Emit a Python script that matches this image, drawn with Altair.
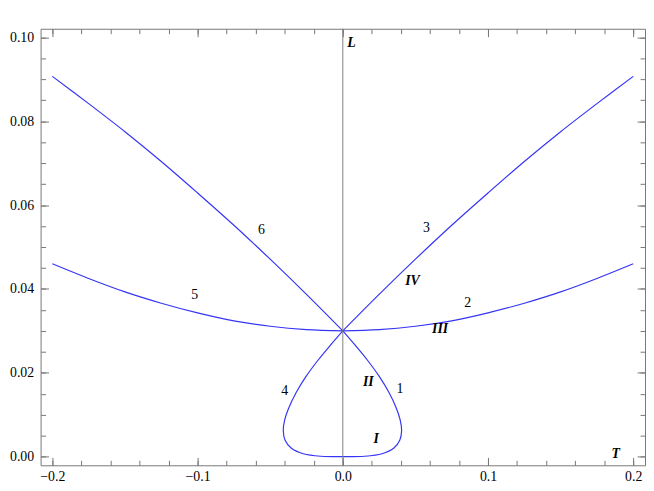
import altair as alt
import pandas as pd

# ---- data ----
# branches 3 (right) and 6 (left)
branch3_x = [0.0, 0.025, 0.05, 0.075, 0.1, 0.125, 0.15, 0.175, 0.2]
branch3_y = [0.0300, 0.0387, 0.0471, 0.0552, 0.0629, 0.0704, 0.0775, 0.0842, 0.0907]
branch6_x = [0.0, -0.025, -0.05, -0.075, -0.1, -0.125, -0.15, -0.175, -0.2]
branch6_y = [0.0300, 0.0387, 0.0471, 0.0552, 0.0629, 0.0704, 0.0775, 0.0842, 0.0907]
# parabola-like branches 2 (right) and 5 (left)
branch2_x = [0.0, 0.025, 0.05, 0.075, 0.1, 0.125, 0.15, 0.175, 0.2]
branch2_y = [0.0300, 0.0303, 0.0311, 0.0324, 0.0343, 0.0366, 0.0393, 0.0425, 0.0460]
branch5_x = [0.0, -0.025, -0.05, -0.075, -0.1, -0.125, -0.15, -0.175, -0.2]
branch5_y = [0.0300, 0.0303, 0.0311, 0.0324, 0.0343, 0.0366, 0.0393, 0.0425, 0.0460]
# loop (branches 1 and 4), traced from the crossing point around
loop_x = [0.0, 0.0085, 0.0170, 0.0250, 0.0318, 0.0366, 0.0395, 0.0405, 0.0393, 0.0350,
          0.0270, 0.0150, 0.0, -0.0150, -0.0272, -0.0354, -0.0398, -0.0410, -0.0400,
          -0.0370, -0.0321, -0.0252, -0.0171, -0.0085, 0.0]
loop_y = [0.0300, 0.0266, 0.0230, 0.0192, 0.0153, 0.0118, 0.0088, 0.0063, 0.0040, 0.0020,
          0.0007, 0.0001, 0.0, 0.0001, 0.0007, 0.0020, 0.0040, 0.0063, 0.0088,
          0.0118, 0.0153, 0.0192, 0.0230, 0.0266, 0.0300]

num_labels = ["6", "5", "3", "2", "1", "4"]
num_x = [-0.056, -0.102, 0.0576, 0.086, 0.0393, -0.040]
num_y = [0.0540, 0.0385, 0.0545, 0.0366, 0.0161, 0.0156]

roman_labels = ["I", "II", "III", "IV"]
roman_x = [0.023, 0.0176, 0.067, 0.048]
roman_y = [0.0041, 0.0178, 0.0305, 0.0418]

axis_labels = ["L", "T"]
axis_lab_x = [0.006, 0.188]
axis_lab_y = [0.0987, 0.0007]

x_major = [-0.2, -0.1, 0.0, 0.1, 0.2]
y_major = [0.0, 0.02, 0.04, 0.06, 0.08, 0.1]
x_minor = [-0.2, -0.18, -0.16, -0.14, -0.12, -0.1, -0.08, -0.06, -0.04, -0.02, 0.0,
           0.02, 0.04, 0.06, 0.08, 0.1, 0.12, 0.14, 0.16, 0.18, 0.2]
y_minor = [0.0, 0.005, 0.01, 0.015, 0.02, 0.025, 0.03, 0.035, 0.04, 0.045, 0.05,
           0.055, 0.06, 0.065, 0.07, 0.075, 0.08, 0.085, 0.09, 0.095, 0.1]

X_DOMAIN = [-0.2081, 0.2081]
Y_DOMAIN = [-0.00205, 0.10205]

# ---- tables ----
rows = []
for name, xs_, ys_ in [("3", branch3_x, branch3_y), ("6", branch6_x, branch6_y),
                       ("2", branch2_x, branch2_y), ("5", branch5_x, branch5_y),
                       ("loop", loop_x, loop_y)]:
    for i, (x, y) in enumerate(zip(xs_, ys_)):
        rows.append({"curve": name, "x": x, "y": y, "o": i})
curves = pd.DataFrame(rows)
nums = pd.DataFrame({"t": num_labels, "x": num_x, "y": num_y})
romans = pd.DataFrame({"t": roman_labels, "x": roman_x, "y": roman_y})
axlabs = pd.DataFrame({"t": axis_labels, "x": axis_lab_x, "y": axis_lab_y})
zero = pd.DataFrame({"x": [0.0]})

FONT = "Liberation Serif"
GRAY = "#777777"
BLUE = "#3535f5"

xs = alt.Scale(domain=X_DOMAIN, nice=False, zero=False)
ys = alt.Scale(domain=Y_DOMAIN, nice=False, zero=False)


def ax(orient, values, size, labels=False, fmt=None, pad=0):
    kw = dict(orient=orient, values=values, tickSize=size, offset=-size, domain=False,
              grid=False, title=None, tickColor=GRAY, tickWidth=1, labels=labels)
    if labels:
        kw.update(format=fmt, labelFont=FONT, labelFontSize=14, labelColor="black",
                  labelPadding=pad, labelFlush=False, labelOverlap=False)
    return alt.Axis(**kw)


lines = alt.Chart(curves).mark_line(color=BLUE, strokeWidth=1.2, interpolate="catmull-rom").encode(
    x=alt.X("x:Q", scale=xs, axis=ax("bottom", x_major, 8, True, ".1f", 4)),
    y=alt.Y("y:Q", scale=ys, axis=ax("left", y_major, 8, True, ".2f", 7)),
    detail="curve:N", order="o:Q")

ghost1 = alt.Chart(curves).mark_line(strokeOpacity=0).encode(
    x=alt.X("x:Q", scale=xs, axis=ax("top", x_major, 8)),
    y=alt.Y("y:Q", scale=ys, axis=ax("right", y_major, 8)),
    detail="curve:N", order="o:Q")

ghost2 = alt.Chart(curves).mark_line(strokeOpacity=0).encode(
    x=alt.X("x:Q", scale=xs, axis=ax("bottom", x_minor, 5)),
    y=alt.Y("y:Q", scale=ys, axis=ax("left", y_minor, 5)),
    detail="curve:N", order="o:Q")

ghost3 = alt.Chart(curves).mark_line(strokeOpacity=0).encode(
    x=alt.X("x:Q", scale=xs, axis=ax("top", x_minor, 5)),
    y=alt.Y("y:Q", scale=ys, axis=ax("right", y_minor, 5)),
    detail="curve:N", order="o:Q")

rule = alt.Chart(zero).mark_rule(color="#808080", strokeWidth=1).encode(
    x=alt.X("x:Q", scale=xs, axis=None))

num_text = alt.Chart(nums).mark_text(font=FONT, fontSize=14, color="black",
                                     align="center", baseline="middle").encode(
    x=alt.X("x:Q", scale=xs, axis=None), y=alt.Y("y:Q", scale=ys, axis=None), text="t:N")

roman_text = alt.Chart(romans).mark_text(font=FONT, fontSize=14, color="black",
                                         fontStyle="italic", fontWeight="bold",
                                         align="center", baseline="middle").encode(
    x=alt.X("x:Q", scale=xs, axis=None), y=alt.Y("y:Q", scale=ys, axis=None), text="t:N")

axlab_text = alt.Chart(axlabs).mark_text(font=FONT, fontSize=14, color="black",
                                         fontStyle="italic", fontWeight="bold",
                                         align="center", baseline="middle").encode(
    x=alt.X("x:Q", scale=xs, axis=None), y=alt.Y("y:Q", scale=ys, axis=None), text="t:N")

chart = alt.layer(lines, ghost1, ghost2, ghost3, rule, num_text, roman_text, axlab_text).resolve_axis(
    x="independent", y="independent"
).properties(
    width=612, height=442,
    autosize=alt.AutoSizeParams(type="none"),
    padding={"left": 33, "top": 18, "right": 1, "bottom": 22},
).configure_view(stroke=GRAY, strokeWidth=1).configure_axis(labelFont=FONT)

chart.save("out.html", embed_options={"renderer": "svg", "actions": False})
